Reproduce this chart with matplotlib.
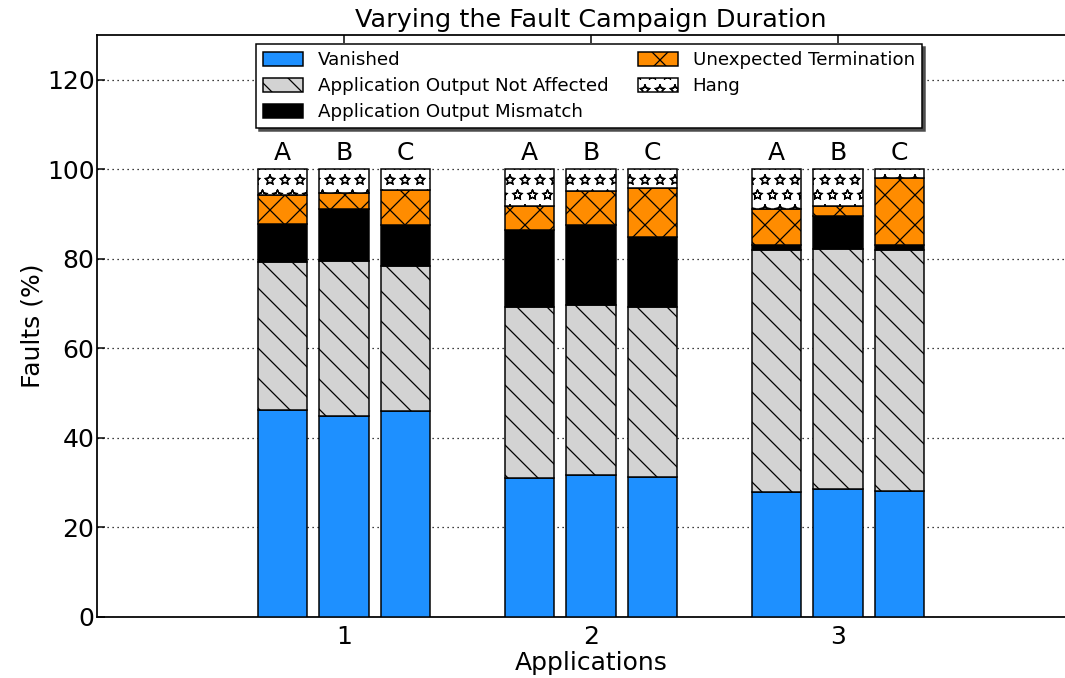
import numpy as np
import matplotlib
matplotlib.use("Agg")
import matplotlib.pyplot as plt
import matplotlib.hatch as mhatch

# Fault outcome breakdown (%) for each application and campaign duration
applications = [1, 2, 3]
durations = ["A", "B", "C"]

# order: app1 A,B,C | app2 A,B,C | app3 A,B,C
vanished = [46.3, 44.9, 46.0, 31.1, 31.7, 31.3, 27.9, 28.6, 28.1]
not_affected = [33.1, 34.7, 32.5, 38.1, 38.1, 38.0, 54.0, 53.7, 53.8]
mismatch = [8.3, 11.6, 9.1, 17.2, 17.7, 15.6, 1.1, 7.3, 1.3]
unexpected = [6.6, 3.4, 7.8, 5.4, 7.6, 11.0, 8.1, 2.3, 14.9]
hang = [5.7, 5.4, 4.6, 8.2, 4.9, 4.1, 8.9, 8.1, 1.9]

categories = [
    ("Vanished", vanished, "#1E90FF", None),
    ("Application Output Not Affected", not_affected, "#D3D3D3", "\\\\"),
    ("Application Output Mismatch", mismatch, "black", None),
    ("Unexpected Termination", unexpected, "#FF8C00", "xx"),
    ("Hang", hang, "white", "**"),
]

# outlined (hollow) stars for the hang pattern
mhatch.Stars.filled = False

DPI = 180
plt.rcParams["font.family"] = "DejaVu Sans"
plt.rcParams["hatch.linewidth"] = 0.5
plt.rcParams["xtick.direction"] = "in"
plt.rcParams["ytick.direction"] = "in"

fig = plt.figure(figsize=(1065 / DPI, 678 / DPI), dpi=DPI)
ax = fig.add_axes([97 / 1065, 61 / 678, 988 / 1065, 582 / 678])

offsets = [-0.25, 0.0, 0.25]
width = 0.2
xpos = np.array([a + o for a in applications for o in offsets])

bottom = np.zeros(len(xpos))
handles = []
for label, vals, color, hatch in categories:
    vals = np.array(vals)
    bars = ax.bar(xpos, vals, width, bottom=bottom, color=color,
                  edgecolor="black", linewidth=0.6, hatch=hatch,
                  label=label, zorder=3)
    handles.append(bars)
    bottom = bottom + vals

for x, tot, name in zip(xpos, bottom, durations * len(applications)):
    ax.text(x, tot + 1.0, name, ha="center", va="bottom", fontsize=10)

ax.set_xlim(0, 4)
ax.set_ylim(0, 130)
ax.set_xticks(applications)
ax.set_yticks(np.arange(0, 121, 20))
ax.tick_params(axis="both", labelsize=10, length=3, width=0.6,
               top=True, right=False)
ax.tick_params(axis="y", pad=1)
ax.tick_params(axis="x", pad=3)
ax.yaxis.grid(True, linestyle=(0, (1, 3)), color="black", linewidth=0.5,
              zorder=0)
ax.set_axisbelow(True)
for s in ax.spines.values():
    s.set_linewidth(0.7)

ax.set_xlabel("Applications", fontsize=10, labelpad=1)
ax.set_ylabel("Faults (%)", fontsize=10, labelpad=1)
ax.set_title("Varying the Fault Campaign Duration", fontsize=10.2, pad=3)

leg = ax.legend(handles, [c[0] for c in categories],
                loc="upper center", bbox_to_anchor=(0.498, 0.984),
                borderaxespad=0, ncol=2, fontsize=7.3, frameon=True,
                fancybox=False,
                shadow={"ox": 1.2, "oy": -1.2, "color": "0.3", "alpha": 1.0},
                borderpad=0.38, labelspacing=0.44, handlelength=2.2,
                handleheight=0.8, handletextpad=0.8, columnspacing=1.6)
leg.get_frame().set_edgecolor("black")
leg.get_frame().set_linewidth(0.6)

fig.savefig("out.png", dpi=DPI, facecolor="white")
